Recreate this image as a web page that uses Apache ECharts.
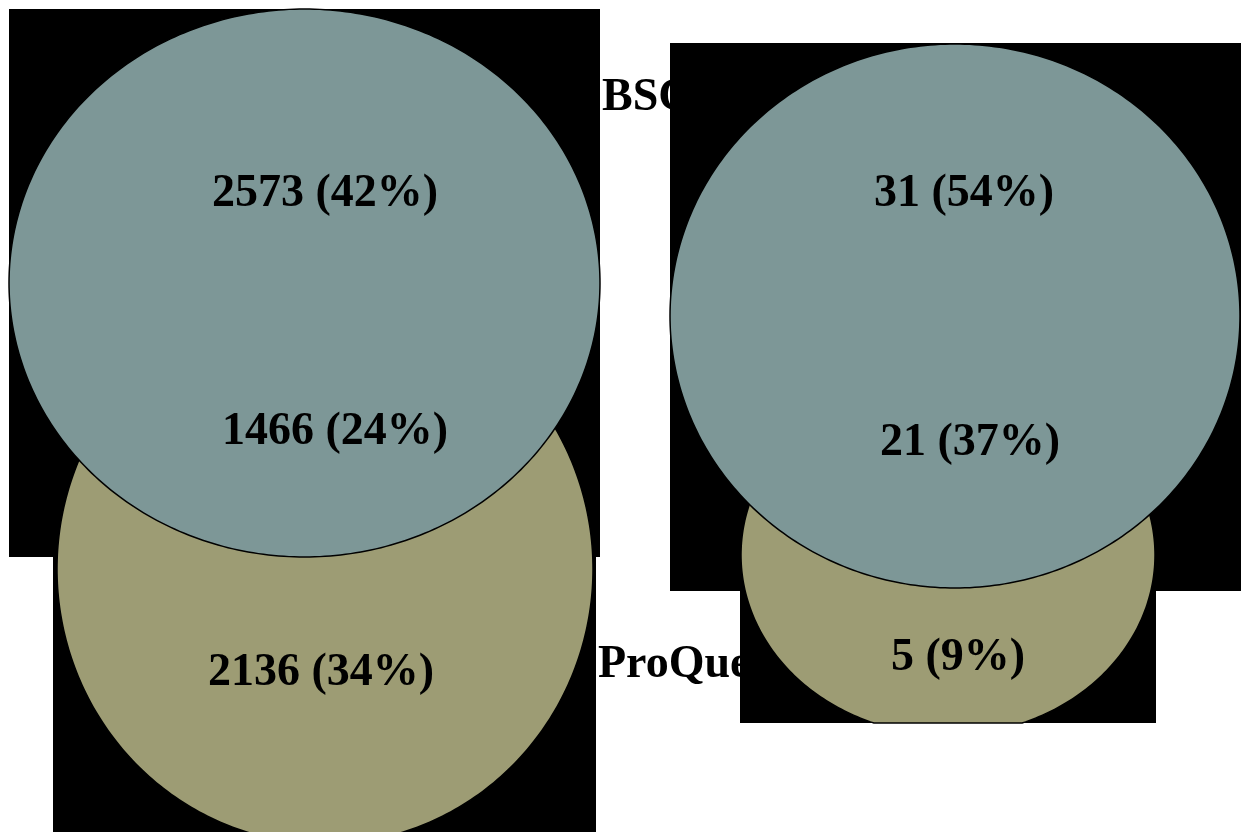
<!DOCTYPE html>
<html><head><meta charset="utf-8">
<script src="https://cdn.jsdelivr.net/npm/echarts@6/dist/echarts.min.js"></script>
<style>html,body{margin:0;padding:0;background:#fff}#c{width:1241px;height:832px}</style>
</head><body><div id="c"></div>
<script>
// ---- data ----
const setNames = ['BSC', 'ProQue'];
// regions: [BSC only, BSC ∩ ProQue, ProQue only]
const leftCounts = [2573, 1466, 2136];
const leftPercents = [42, 24, 34];
const rightCounts = [31, 21, 5];
const rightPercents = [54, 37, 9];

// ---- layout (canvas units, used through the axes) ----
const W = 1241, H = 832;
const setColors = ['#7d9797', '#9d9c74'];
const layout = [
  { sets: [ { box: [9, 9, 600, 557],    ell: [304.5, 283, 295.5, 274] },
            { box: [53, 294, 596, 850],  ell: [325, 569, 268, 275] } ],
    labels: [[325, 194], [335, 432], [321, 673]] },
  { sets: [ { box: [670, 43, 1260, 591], ell: [955, 316, 285, 272] },
            { box: [740, 300, 1156, 723], ell: [948, 555, 207, 180] } ],
    labels: [[964, 194], [970, 443], [958, 658]] }
];
const setNamePos = [[602, 98], [598, 665]];
const diagrams = [
  { counts: leftCounts, percents: leftPercents },
  { counts: rightCounts, percents: rightPercents }
];
const FONT = '"Liberation Serif","Times New Roman",serif';

function ellipsePoints(api, ell, box) {
  const pts = [];
  for (let i = 0; i < 360; i++) {
    const a = i / 360 * Math.PI * 2;
    let x = ell[0] + ell[2] * Math.cos(a);
    let y = ell[1] + ell[3] * Math.sin(a);
    x = Math.min(Math.max(x, box[0]), box[2]);
    y = Math.min(Math.max(y, box[1]), box[3]);
    pts.push(api.coord([x, y]));
  }
  return pts;
}

function diagramItem(idx, api) {
  const L = layout[idx];
  const d = diagrams[idx];
  const children = [];
  L.sets.forEach(s => {
    const p0 = api.coord([s.box[0], s.box[1]]);
    const p1 = api.coord([s.box[2], s.box[3]]);
    children.push({ type: 'rect', shape: { x: p0[0], y: p0[1], width: p1[0] - p0[0], height: p1[1] - p0[1] },
      style: { fill: '#000' } });
  });
  for (let i = L.sets.length - 1; i >= 0; i--) {
    const s = L.sets[i];
    children.push({ type: 'polygon', shape: { points: ellipsePoints(api, s.ell, s.box) },
      style: { fill: setColors[i], stroke: '#000', lineWidth: 1.5 } });
  }
  d.counts.forEach((c, k) => {
    const p = api.coord(L.labels[k]);
    children.push({ type: 'text', x: p[0], y: p[1],
      style: { text: c + ' (' + d.percents[k] + '%)', fill: '#000', font: 'bold 46px ' + FONT,
        align: 'center', verticalAlign: 'middle' } });
  });
  return { type: 'group', children };
}

function nameItem(params, api) {
  const p = api.coord(setNamePos[params.dataIndex]);
  return { type: 'text', x: p[0], y: p[1],
    style: { text: setNames[params.dataIndex], fill: '#000', font: 'bold 46px ' + FONT,
      align: 'left', verticalAlign: 'middle' } };
}

const chart = echarts.init(document.getElementById('c'), null, { renderer: 'canvas' });
chart.setOption({
  animation: false,
  backgroundColor: '#fff',
  grid: { left: 0, right: 0, top: 0, bottom: 0 },
  xAxis: { type: 'value', min: 0, max: W, show: false },
  yAxis: { type: 'value', min: 0, max: H, inverse: true, show: false },
  series: [
    { type: 'custom', renderItem: (p, api) => diagramItem(0, api), data: [leftCounts[0]], clip: false, z: 1 },
    { type: 'custom', renderItem: nameItem, data: setNames.map((n, i) => i), clip: false, z: 2 },
    { type: 'custom', renderItem: (p, api) => diagramItem(1, api), data: [rightCounts[0]], clip: false, z: 3 }
  ]
});
</script></body></html>
